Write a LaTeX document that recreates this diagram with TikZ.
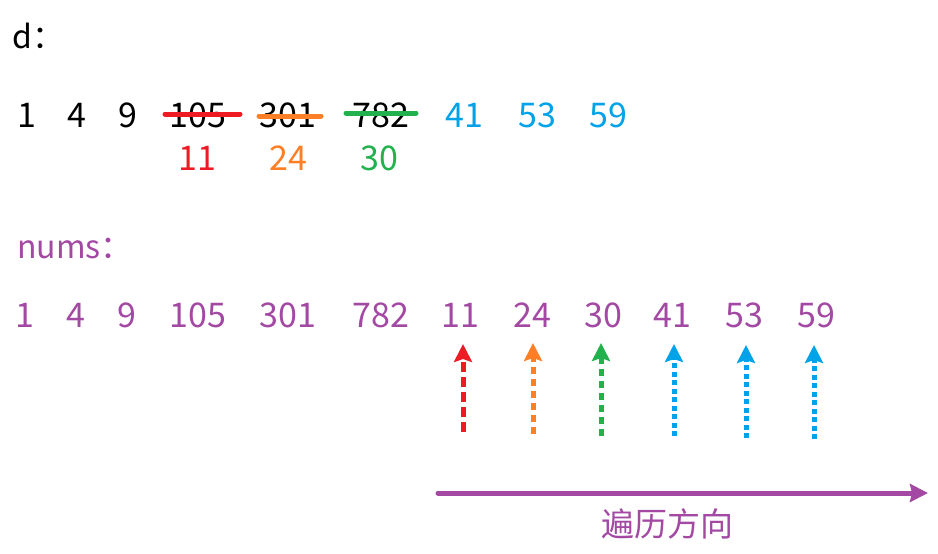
\documentclass[tikz,border=0pt]{standalone}
\usepackage{fontspec}
\setmainfont{Noto Sans CJK SC}
\usetikzlibrary{arrows.meta}
\definecolor{cred}{HTML}{ED1C24}
\definecolor{corange}{HTML}{FF7F27}
\definecolor{cgreen}{HTML}{22B14C}
\definecolor{cblue}{HTML}{00A2E8}
\definecolor{cpurple}{HTML}{A349A4}
\begin{document}
\begin{tikzpicture}[x=1pt,y=-1pt,
  num/.style={anchor=base, inner sep=0pt, font=\fontsize{34}{40}\selectfont},
  lbl/.style={anchor=base west, inner sep=0pt},
  strike/.style={line width=5pt, line cap=round},
  ptr/.style={line width=5pt, -{Stealth[length=18pt,width=18pt,inset=3pt]}},
  longdash/.style={dash pattern=on 10pt off 5pt},
  middash/.style={dash pattern=on 7pt off 5pt},
  shortdash/.style={dash pattern=on 5pt off 3.5pt}]
\useasboundingbox (0,0) rectangle (938,554);
% title d
\node[lbl, font=\fontsize{32}{38}\selectfont] (dl) at (12,48) {d：};
% row 1
\node[num] (a1) at (27,127) {1};
\node[num] (a2) at (77,127) {4};
\node[num] (a3) at (128,127) {9};
\node[num] (a4) at (198,127) {105};
\node[num] (a5) at (288,127) {301};
\node[num] (a6) at (381,127) {782};
\node[num, cblue] (a7) at (464,127) {41};
\node[num, cblue] (a8) at (537,127) {53};
\node[num, cblue] (a9) at (608,127) {59};
% strikes
\coordinate (s1a) at (165,114); \coordinate (s1b) at (240,114);
\coordinate (s2a) at (259,116); \coordinate (s2b) at (321,116);
\coordinate (s3a) at (346,113); \coordinate (s3b) at (416,113);
\draw[strike, cred] (s1a) -- (s1b);
\draw[strike, corange] (s2a) -- (s2b);
\draw[strike, cgreen] (s3a) -- (s3b);
% row 2
\node[num, cred] (b1) at (197,170) {11};
\node[num, corange] (b2) at (288,170) {24};
\node[num, cgreen] (b3) at (379,170) {30};
% nums label
\node[lbl, cpurple, font=\fontsize{32}{38}\selectfont] (nl) at (17,258) {nums：};
% row 3
\begin{scope}[every node/.append style={cpurple}]
\node[num] (c1) at (25,327) {1};
\node[num] (c2) at (76,327) {4};
\node[num] (c3) at (127,327) {9};
\node[num] (c4) at (198,327) {105};
\node[num] (c5) at (288,327) {301};
\node[num] (c6) at (381,327) {782};
\node[num] (c7) at (460,327) {11};
\node[num] (c8) at (532,327) {24};
\node[num] (c9) at (603,327) {30};
\node[num] (c10) at (672,327) {41};
\node[num] (c11) at (744,327) {53};
\node[num] (c12) at (816,327) {59};
\end{scope}
% pointer arrows
\coordinate (p1t) at (463,344); \coordinate (p1b) at (463,432);
\coordinate (p2t) at (533,343); \coordinate (p2b) at (533,434);
\coordinate (p3t) at (601,343); \coordinate (p3b) at (601,436);
\coordinate (p4t) at (674,344); \coordinate (p4b) at (674,436);
\coordinate (p5t) at (746,345); \coordinate (p5b) at (746,438);
\coordinate (p6t) at (814,345); \coordinate (p6b) at (814,439);
\draw[ptr, cred, longdash] (p1b) -- (p1t);
\draw[ptr, corange, middash] (p2b) -- (p2t);
\draw[ptr, cgreen, middash] (p3b) -- (p3t);
\draw[ptr, cblue, shortdash] (p4b) -- (p4t);
\draw[ptr, cblue, shortdash] (p5b) -- (p5t);
\draw[ptr, cblue, shortdash] (p6b) -- (p6t);
% traversal direction
\coordinate (ta) at (438,493);
\coordinate (tb) at (928,493);
\draw[cpurple, line width=5pt, line cap=round, -{Stealth[length=18pt,width=18pt,inset=2pt]}] (ta) -- (tb);
\node[cpurple, inner sep=0pt, font=\fontsize{33}{38}\selectfont] (dir) at (667,524) {遍历方向};
\end{tikzpicture}
\end{document}
